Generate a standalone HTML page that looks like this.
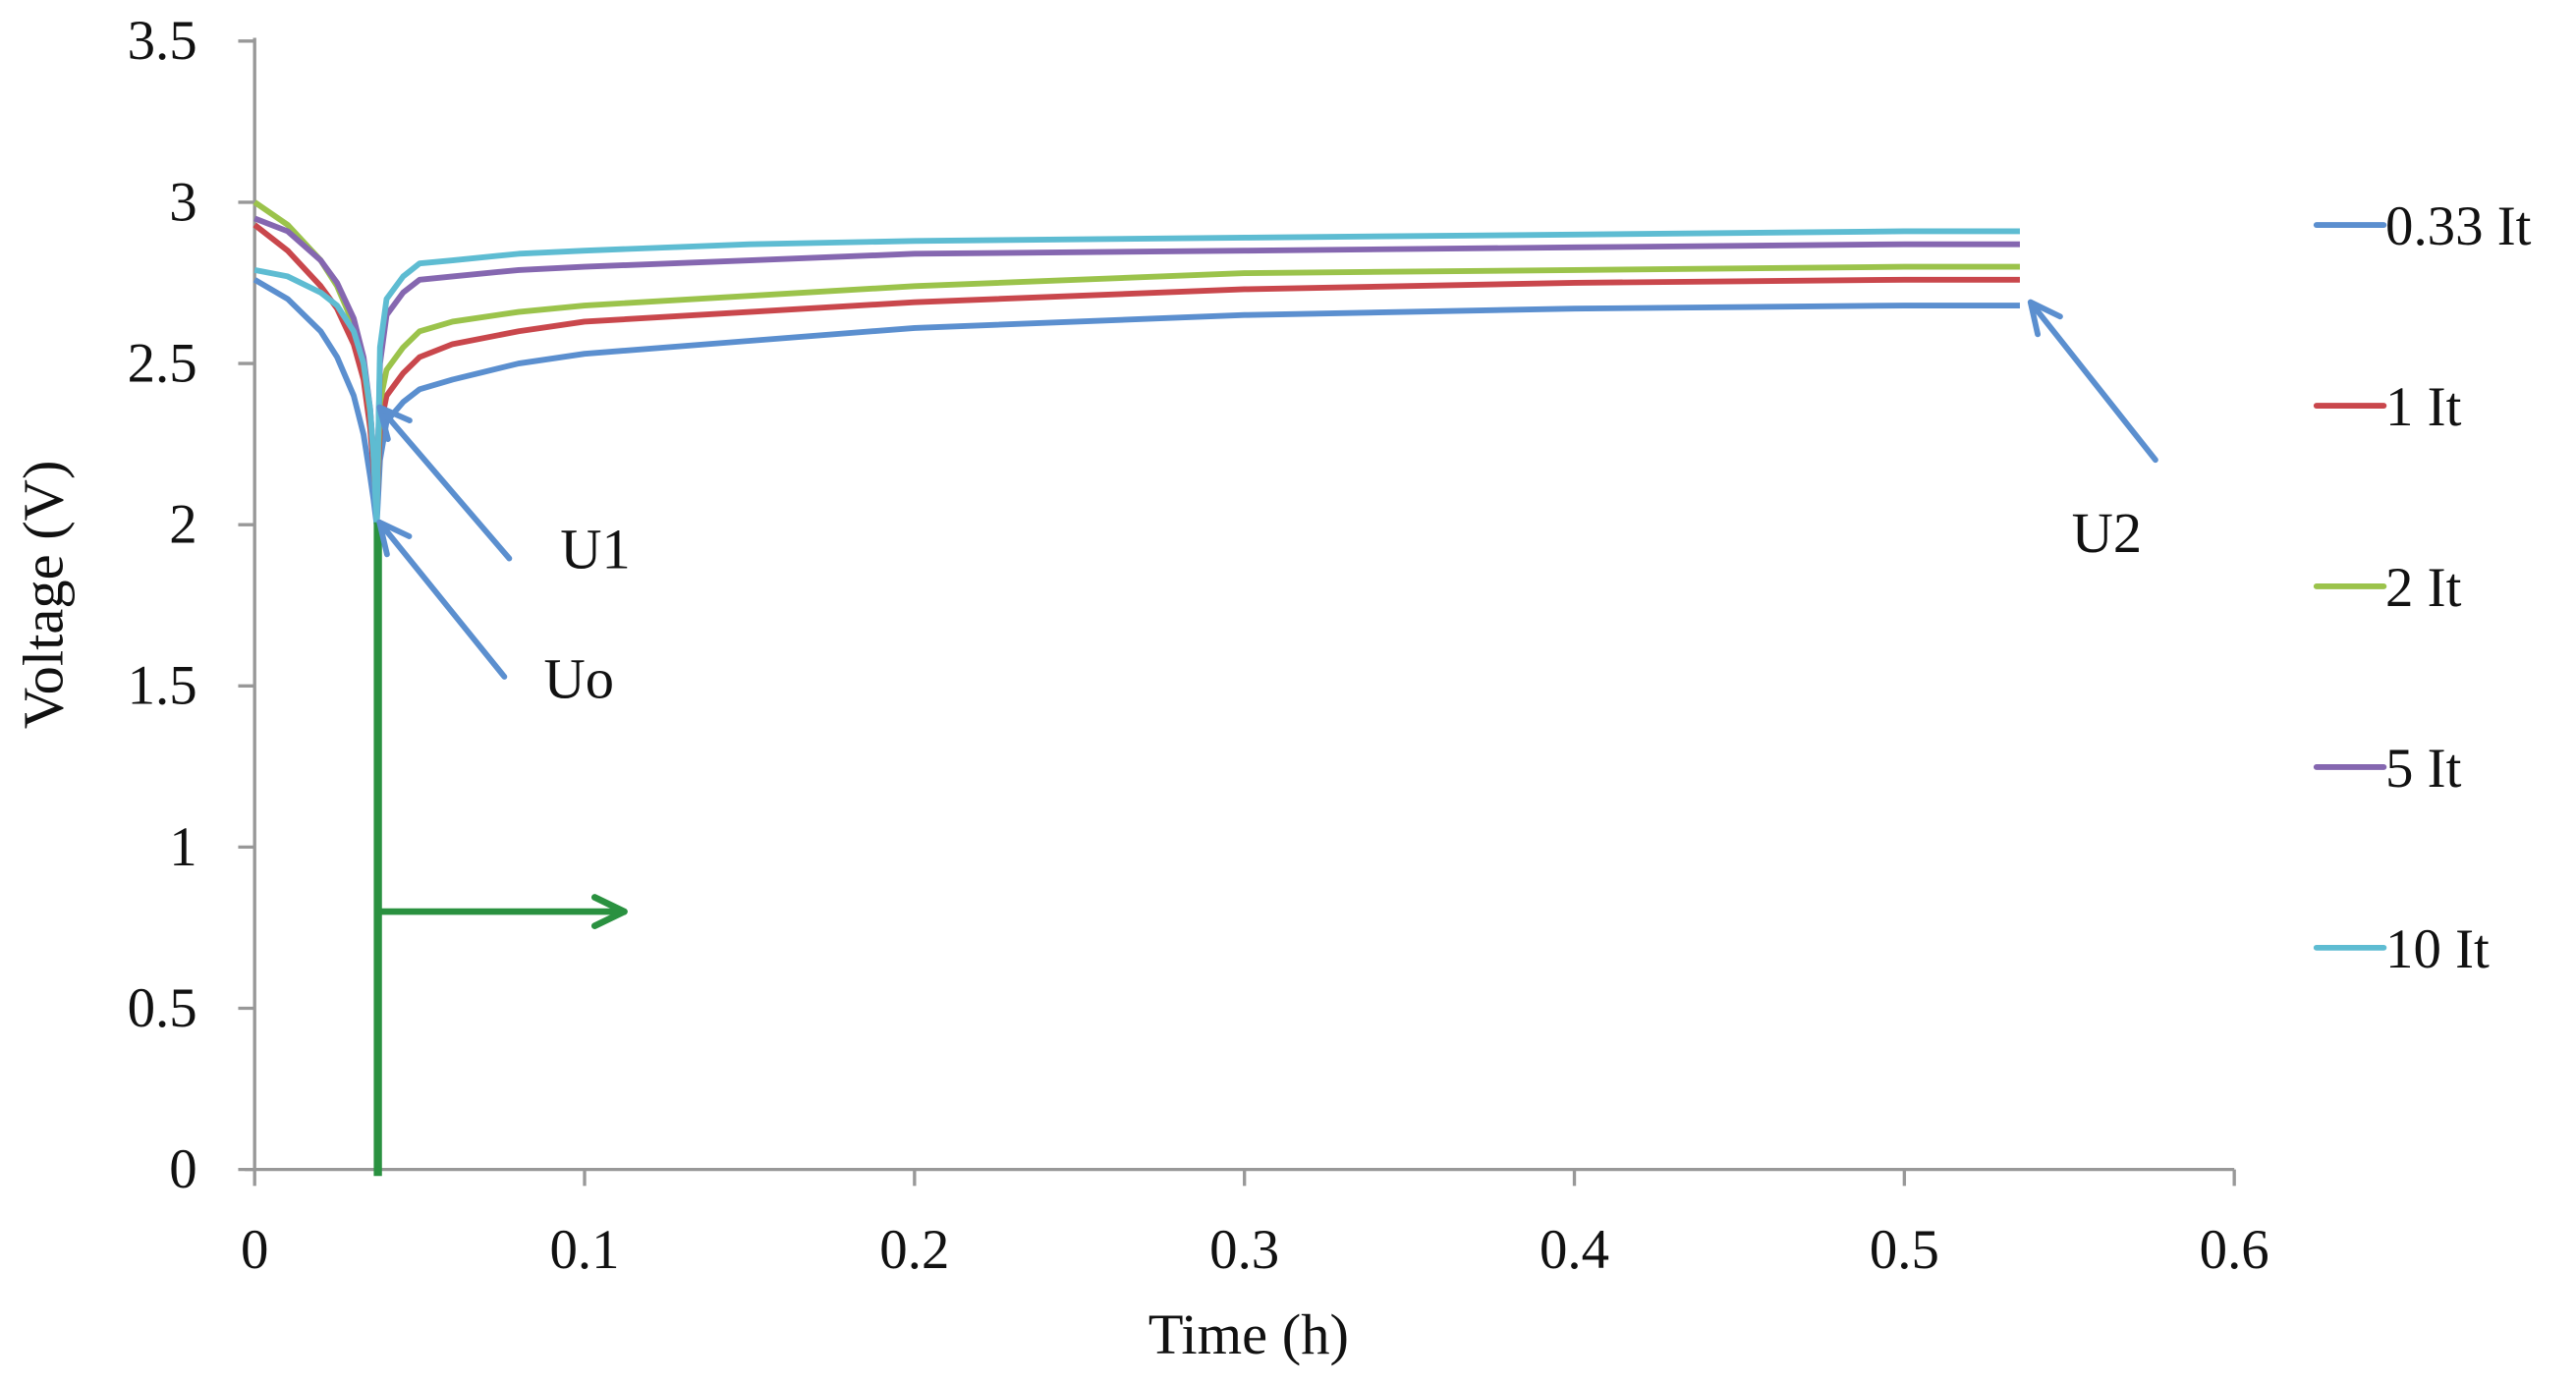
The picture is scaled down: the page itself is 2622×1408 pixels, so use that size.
<!DOCTYPE html>
<html><head><meta charset="utf-8"><style>
html,body{margin:0;padding:0;background:#fff;}
svg{display:block;font-family:"Liberation Serif",serif;}
</style></head><body>
<svg id="chart" width="2622" height="1408" viewBox="0 0 1568 842" preserveAspectRatio="none" xmlns="http://www.w3.org/2000/svg">
<rect x="0" y="0" width="1568" height="842" fill="#fff"/>
<g id="axes"></g>
<g id="series"></g>
<g id="annot"></g>
<g id="legend"></g>
</svg>
<script>
const xTicks = [0, 0.1, 0.2, 0.3, 0.4, 0.5, 0.6];
const xTickLabels = ["0", "0.1", "0.2", "0.3", "0.4", "0.5", "0.6"];
const yTicks = [0, 0.5, 1, 1.5, 2, 2.5, 3, 3.5];
const yTickLabels = ["0", "0.5", "1", "1.5", "2", "2.5", "3", "3.5"];
const seriesNames = ["0.33 It", "1 It", "2 It", "5 It", "10 It"];
const times = [0, 0.01, 0.02, 0.025, 0.03, 0.033, 0.035, 0.036, 0.037, 0.038, 0.04, 0.045, 0.05, 0.06, 0.08, 0.1, 0.15, 0.2, 0.3, 0.4, 0.5, 0.535];
const v033 = [2.76, 2.70, 2.60, 2.52, 2.40, 2.28, 2.15, 2.08, 2.00, 2.20, 2.32, 2.38, 2.42, 2.45, 2.50, 2.53, 2.57, 2.61, 2.65, 2.67, 2.68, 2.68];
const v1 = [2.93, 2.85, 2.74, 2.67, 2.56, 2.45, 2.30, 2.18, 2.05, 2.30, 2.40, 2.47, 2.52, 2.56, 2.60, 2.63, 2.66, 2.69, 2.73, 2.75, 2.76, 2.76];
const v2 = [3.00, 2.93, 2.82, 2.74, 2.62, 2.50, 2.35, 2.22, 2.05, 2.38, 2.48, 2.55, 2.60, 2.63, 2.66, 2.68, 2.71, 2.74, 2.78, 2.79, 2.80, 2.80];
const v5 = [2.95, 2.91, 2.82, 2.75, 2.64, 2.52, 2.36, 2.22, 2.05, 2.50, 2.65, 2.72, 2.76, 2.77, 2.79, 2.80, 2.82, 2.84, 2.85, 2.86, 2.87, 2.87];
const v10 = [2.79, 2.77, 2.72, 2.68, 2.60, 2.50, 2.36, 2.22, 2.00, 2.55, 2.70, 2.77, 2.81, 2.82, 2.84, 2.85, 2.87, 2.88, 2.89, 2.90, 2.91, 2.91];
const seriesValues = [v033, v1, v2, v5, v10];
const colors = ["#5b8fcf", "#c9474c", "#9bc34b", "#8567b0", "#5ebcd2"];

const NS = "http://www.w3.org/2000/svg";
const X0 = 155, X1 = 1360, Y0 = 712, Y1 = 25;
function xs(t){ return X0 + (t - 0) / 0.6 * (X1 - X0); }
function ys(v){ return Y0 - v / 3.5 * (Y0 - Y1); }
function mk(tag, attrs, parent){ const e = document.createElementNS(NS, tag); for (const k in attrs) e.setAttribute(k, attrs[k]); parent.appendChild(e); return e; }

const axes = document.getElementById('axes');
let el = mk('line', {x1:X0, y1:Y1-2, x2:X0, y2:Y0, stroke:'#989898', 'stroke-width':2}, axes);


el = mk('line', {x1:X0-6, y1:Y0, x2:X1, y2:Y0, stroke:'#989898', 'stroke-width':2}, axes);


yTicks.forEach((v, i) => {
  const t = mk('line', {x1:X0-10, y1:ys(v), x2:X0, y2:ys(v), stroke:'#989898', 'stroke-width':2}, axes);
  
  
  const l = mk('text', {x:120, y:ys(v)+11, 'text-anchor':'end', 'font-size':34, fill:'#111'}, axes);
  l.textContent = yTickLabels[i];
  
  
});
xTicks.forEach((v, i) => {
  const t = mk('line', {x1:xs(v), y1:Y0, x2:xs(v), y2:Y0+10, stroke:'#989898', 'stroke-width':2}, axes);
  
  
  const l = mk('text', {x:xs(v), y:772, 'text-anchor':'middle', 'font-size':34, fill:'#111'}, axes);
  l.textContent = xTickLabels[i];
  
  
});
el = mk('text', {x:760, y:824, 'text-anchor':'middle', 'font-size':35, fill:'#111'}, axes);
el.textContent = 'Time (h)';


el = mk('text', {x:0, y:0, 'text-anchor':'middle', 'font-size':35, fill:'#111', transform:'translate(38,362) rotate(-90)'}, axes);
el.textContent = 'Voltage (V)';



const sg = document.getElementById('series');
seriesValues.forEach((vals, si) => {
  const pts = vals.map((v, i) => xs(times[i]).toFixed(1) + ',' + ys(v).toFixed(1)).join(' ');
  const p = mk('polyline', {points:pts, fill:'none', stroke:colors[si], 'stroke-width':3.5, 'stroke-linejoin':'round'}, sg);
  
  
});

const ag = document.getElementById('annot');
function arrow(x1, y1, x2, y2, color, w, name){
  const g = mk('g', {}, ag);
  
  
  mk('line', {x1:x1, y1:y1, x2:x2, y2:y2, stroke:color, 'stroke-width':w, 'stroke-linecap':'round'}, g);
  const a = Math.atan2(y2-y1, x2-x1), L = 20, s = 0.45;
  mk('polyline', {points:`${x2-L*Math.cos(a-s)},${y2-L*Math.sin(a-s)} ${x2},${y2} ${x2-L*Math.cos(a+s)},${y2-L*Math.sin(a+s)}`, fill:'none', stroke:color, 'stroke-width':w, 'stroke-linecap':'round', 'stroke-linejoin':'round'}, g);
}
el = mk('line', {x1:230, y1:318, x2:230, y2:716, stroke:'#2a9140', 'stroke-width':5}, ag);


arrow(230, 555, 380, 555, '#2a9140', 4, 'green-time-arrow');
arrow(310, 340, 231, 248, '#5b8fcf', 3.5, 'u1-arrow');
arrow(307, 412, 231, 318, '#5b8fcf', 3.5, 'uo-arrow');
arrow(1312, 280, 1236, 184, '#5b8fcf', 3.5, 'u2-arrow');
[['U1',341,346,'u1-label'],['Uo',331,425,'uo-label'],['U2',1261,336,'u2-label']].forEach(d => {
  const t = mk('text', {x:d[1], y:d[2], 'font-size':35, fill:'#111'}, ag);
  t.textContent = d[0];
  
  
});

const lg = document.getElementById('legend');
seriesNames.forEach((n, i) => {
  const y = 137 + i * 110;
  const g = mk('g', {}, lg);
  
  
  mk('line', {x1:1410, y1:y, x2:1451, y2:y, stroke:colors[i], 'stroke-width':3.5, 'stroke-linecap':'round'}, g);
  const t = mk('text', {x:1452, y:y+12, 'font-size':34, fill:'#111'}, g);
  t.textContent = n;
});
</script>
</body></html>
